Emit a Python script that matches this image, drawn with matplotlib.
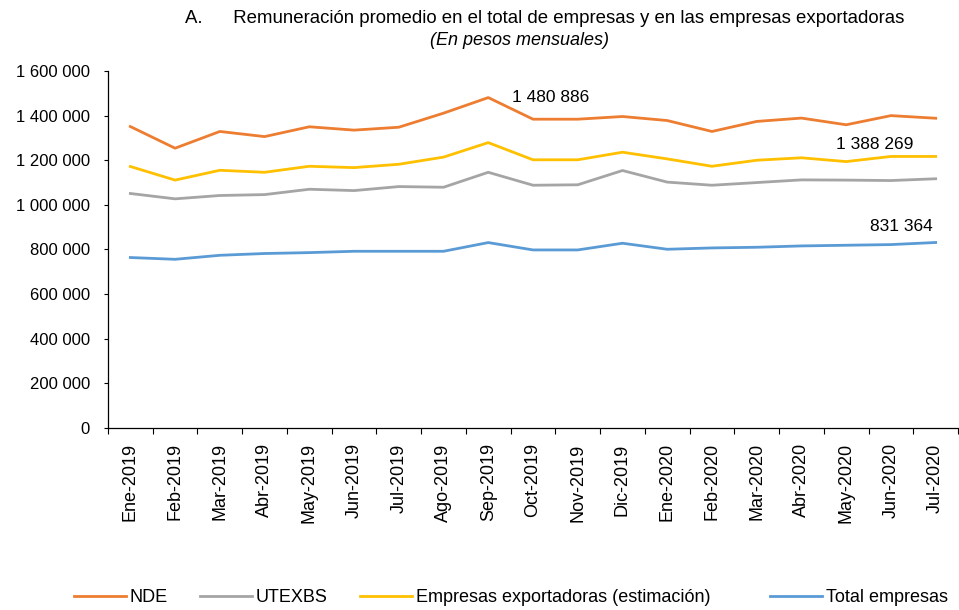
import matplotlib
matplotlib.use("Agg")
import matplotlib.pyplot as plt
from matplotlib.ticker import FuncFormatter, FixedLocator

plt.rcParams['font.family'] = ['Liberation Sans', 'DejaVu Sans']

months = ["Ene-2019", "Feb-2019", "Mar-2019", "Abr-2019", "May-2019", "Jun-2019",
          "Jul-2019", "Ago-2019", "Sep-2019", "Oct-2019", "Nov-2019", "Dic-2019",
          "Ene-2020", "Feb-2020", "Mar-2020", "Abr-2020", "May-2020", "Jun-2020",
          "Jul-2020"]

nde = [1351000, 1254000, 1329000, 1306000, 1350000, 1335000, 1348000, 1411000,
       1480886, 1384000, 1384000, 1396000, 1378000, 1329000, 1374000, 1389000,
       1359000, 1400000, 1388269]
utexbs = [1051000, 1027000, 1042000, 1046000, 1070000, 1064000, 1082000, 1079000,
          1146000, 1088000, 1090000, 1154000, 1102000, 1088000, 1100000, 1112000,
          1111000, 1109000, 1117000]
export = [1172000, 1111000, 1155000, 1146000, 1173000, 1167000, 1182000, 1214000,
          1279000, 1202000, 1202000, 1236000, 1206000, 1173000, 1200000, 1211000,
          1194000, 1217000, 1217000]
total = [764000, 756000, 774000, 782000, 786000, 792000, 792000, 792000,
         831000, 798000, 798000, 828000, 801000, 807000, 810000, 816000,
         819000, 822000, 831364]

yticks = [0, 200000, 400000, 600000, 800000, 1000000, 1200000, 1400000, 1600000]

fig = plt.figure(figsize=(9.59, 6.10), dpi=100)
ax = fig.add_axes([0.1126, 0.2984, 0.8864, 0.5852])

x = list(range(len(months)))
lw = 2.0
h1, = ax.plot(x, nde, color="#ED7D31", lw=lw, label="NDE")
h2, = ax.plot(x, utexbs, color="#A5A5A5", lw=lw, label="UTEXBS")
h3, = ax.plot(x, export, color="#FFC000", lw=lw, label="Empresas exportadoras (estimación)")
h4, = ax.plot(x, total, color="#5B9BD5", lw=lw, label="Total empresas")

ax.set_xlim(-0.5, len(months) - 0.5)
ax.set_ylim(0, 1600000)
ax.set_yticks(yticks)
ax.yaxis.set_major_formatter(FuncFormatter(lambda v, p: f"{int(v):,}".replace(",", " ")))

ax.set_xticks(x)
ax.set_xticklabels(months, rotation=90, fontsize=13)
ax.tick_params(axis='x', which='major', length=0, pad=11)
ax.xaxis.set_minor_locator(FixedLocator([i - 0.5 for i in range(len(months) + 1)]))
ax.tick_params(axis='x', which='minor', length=4.5, width=0.8, direction='out')
ax.tick_params(axis='y', length=3, width=0.8, labelsize=12, pad=10)

for s in ['top', 'right']:
    ax.spines[s].set_visible(False)
for s in ['left', 'bottom']:
    ax.spines[s].set_linewidth(0.9)

def fmt(v):
    return f"{int(v):,}".replace(",", " ")

ax.annotate(fmt(nde[8]), xy=(8, nde[8]), xytext=(17, 0), textcoords='offset points',
            fontsize=12.5, ha='left', va='center')
ax.annotate(fmt(nde[-1]), xy=(18, nde[-1]), xytext=(-16, -19), textcoords='offset points',
            fontsize=12.5, ha='right', va='center')
ax.annotate(fmt(total[-1]), xy=(18, total[-1]), xytext=(-2, 11.5), textcoords='offset points',
            fontsize=12.5, ha='right', va='center')

fig.text(0.568, 0.970, "A.      Remuneración promedio en el total de empresas y en las empresas exportadoras",
         ha='center', va='center', fontsize=13.4)
fig.text(0.542, 0.933, "(En pesos mensuales)", ha='center', va='center', fontsize=13,
         style='italic')

legend_x = [74, 200, 360, 770]
for h, xp in zip([h1, h2, h3, h4], legend_x):
    fig.legend(handles=[h], loc='center left', bbox_to_anchor=(xp / 959, 0.0197),
               frameon=False, fontsize=13, handlelength=2.9, handletextpad=0.2,
               borderpad=0, borderaxespad=0)

fig.savefig("out.png", dpi=100)
